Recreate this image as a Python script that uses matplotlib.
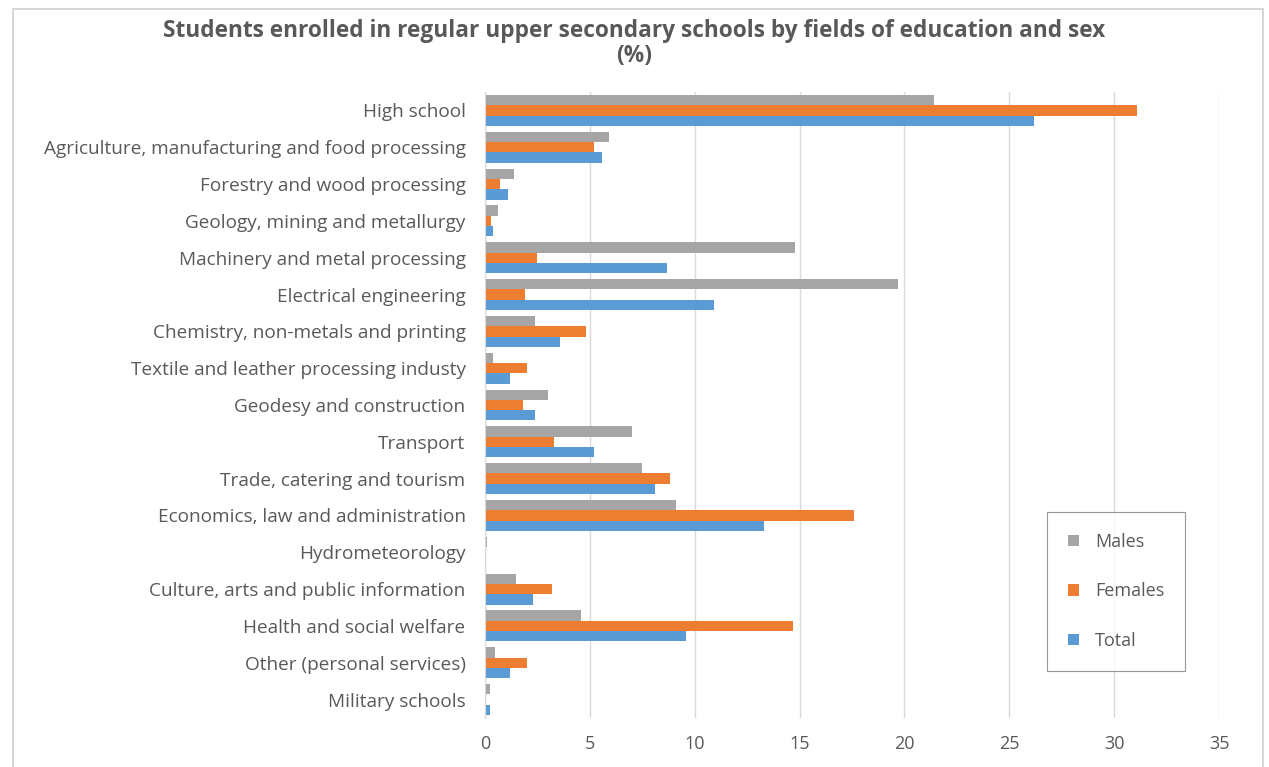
import numpy as np
import matplotlib
matplotlib.use("Agg")
import matplotlib.pyplot as plt
from matplotlib.patches import Rectangle

# data (%)
categories = [
    "High school",
    "Agriculture, manufacturing and food processing",
    "Forestry and wood processing",
    "Geology, mining and metallurgy",
    "Machinery and metal processing",
    "Electrical engineering",
    "Chemistry, non-metals and printing",
    "Textile and leather processing industy",
    "Geodesy and construction",
    "Transport",
    "Trade, catering and tourism",
    "Economics, law and administration",
    "Hydrometeorology",
    "Culture, arts and public information",
    "Health and social welfare",
    "Other (personal services)",
    "Military schools",
]
males = [21.4, 5.9, 1.4, 0.6, 14.8, 19.7, 2.4, 0.4, 3.0, 7.0, 7.5, 9.1, 0.08, 1.5, 4.6, 0.5, 0.23]
females = [31.1, 5.2, 0.7, 0.3, 2.5, 1.9, 4.8, 2.0, 1.8, 3.3, 8.8, 17.6, 0.07, 3.2, 14.7, 2.0, 0.05]
total = [26.2, 5.6, 1.1, 0.4, 8.7, 10.9, 3.6, 1.2, 2.4, 5.2, 8.1, 13.3, 0.06, 2.3, 9.6, 1.2, 0.23]
xticks = [0, 5, 10, 15, 20, 25, 30, 35]

c_m, c_f, c_t = "#A5A5A5", "#ED7D31", "#5B9BD5"
txt = "#595959"

plt.rcParams["font.family"] = ["Open Sans", "DejaVu Sans"]
plt.rcParams["hatch.color"] = "#8A8A8A"
plt.rcParams["hatch.linewidth"] = 0.5

fig = plt.figure(figsize=(12.69, 7.67), dpi=100)
ax = fig.add_axes([485 / 1269, 1 - 718 / 767, (1219 - 485) / 1269, (718 - 92) / 767])

y = np.arange(len(categories))
h = 0.28
ax.barh(y - h, males, height=h, color=c_m, hatch="......", edgecolor=c_m, linewidth=0, label="Males")
ax.barh(y, females, height=h, color=c_f, linewidth=0, label="Females")
ax.barh(y + h, total, height=h, color=c_t, linewidth=0, label="Total")

ax.set_xlim(0, 35)
ax.set_ylim(len(categories) - 0.5, -0.5)
ax.set_xticks(xticks)
ax.set_xticklabels([str(v) for v in xticks], color=txt, fontsize=13)
ax.set_yticks(y)
ax.set_yticklabels(categories, color=txt, fontsize=13.7)
ax.tick_params(length=0)
ax.tick_params(axis="y", pad=14)
ax.tick_params(axis="x", pad=12)
ax.xaxis.grid(True, color="#D9D9D9", linewidth=1)
ax.set_axisbelow(True)
for s in ["top", "right", "bottom"]:
    ax.spines[s].set_visible(False)
ax.spines["left"].set_color("#D9D9D9")

leg = ax.legend(loc="upper left", bbox_to_anchor=((1047 - 485) / 734, 1 - (512 - 92) / 626),
                frameon=True, fancybox=False, fontsize=13, labelspacing=1.75,
                borderpad=1.15, handlelength=0.6, handleheight=0.6, handletextpad=0.9,
                borderaxespad=0)
leg.get_frame().set_edgecolor("#7F7F7F")
leg.get_frame().set_linewidth(0.8)
for t in leg.get_texts():
    t.set_color(txt)

fig.text(0.5, 1 - 31 / 767, "Students enrolled in regular upper secondary schools by fields of education and sex",
         ha="center", va="center", fontsize=16.3, fontweight="bold", color=txt)
fig.text(0.5, 1 - 56 / 767, "(%)", ha="center", va="center", fontsize=16.3, fontweight="bold", color=txt)

# outer chart frame
fig.patches.append(Rectangle((13 / 1269, -0.01), (1263 - 13) / 1269, 1 - 9 / 767 + 0.01,
                             transform=fig.transFigure, fill=False, edgecolor="#D0D0D0", linewidth=1.2))

fig.savefig("out.png", dpi=100)
